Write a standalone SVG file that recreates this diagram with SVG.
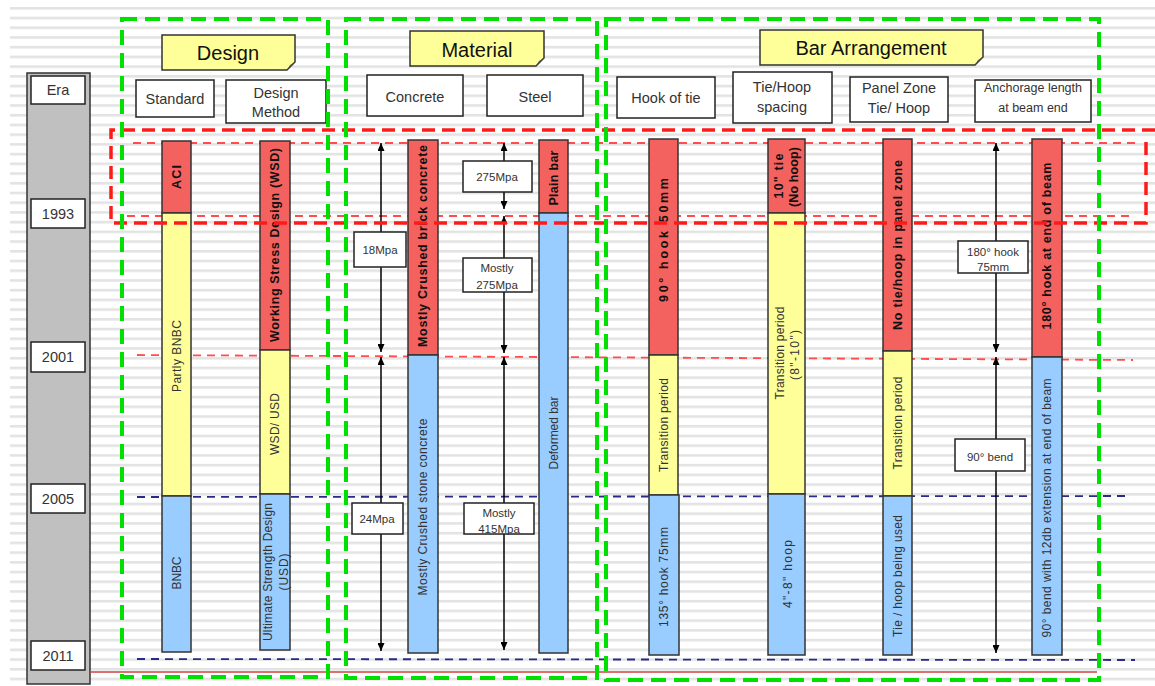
<svg xmlns="http://www.w3.org/2000/svg" width="1155" height="686" viewBox="0 0 1155 686">
<style>
.green{fill:none;stroke:#00e000;stroke-width:4;stroke-dasharray:15 8}
.redthick{fill:none;stroke:#ff1a1a;stroke-width:3.5;stroke-dasharray:13 7}
.redthin{fill:none;stroke:#ff4d4d;stroke-width:1.8;stroke-dasharray:8 6}
.navy{fill:none;stroke:#2a2a8a;stroke-width:1.8;stroke-dasharray:8 6}
.box{fill:#fff;stroke:#222;stroke-width:1.5}
.note{fill:#ffff99;stroke:#333;stroke-width:1.5}
.br{fill:#f4625f;stroke:#333;stroke-width:1.5}
.by{fill:#ffff99;stroke:#333;stroke-width:1.5}
.bb{fill:#99ccff;stroke:#333;stroke-width:1.5}
.t{font-family:"Liberation Sans",Arial,sans-serif;fill:#333;text-anchor:middle}
.hdr{font-size:20px;fill:#111}
.lbl{font-size:14.5px}
.sm{font-size:12.5px}
.ml{font-size:11.5px}
.vb{font-size:12.5px;font-weight:bold;fill:#111}
.vn{font-size:12px;fill:#333}
.arr{stroke:#000;stroke-width:1.5;fill:none;marker-start:url(#ah);marker-end:url(#ah)}
</style>
<defs>
<pattern id="stripes" patternUnits="userSpaceOnUse" x="0" y="7" width="20" height="9.72">
<rect x="0" y="0" width="20" height="2.6" fill="#e3e3e3"/>
</pattern>
<marker id="ah" viewBox="0 0 8 7" refX="8" refY="3.5" markerWidth="8" markerHeight="7" markerUnits="userSpaceOnUse" orient="auto-start-reverse">
<path d="M0,0 L8,3.5 L0,7 z" fill="#000"/>
</marker>
</defs>
<rect width="1155" height="686" fill="#fff"/>
<rect x="10" y="5" width="1145" height="681" fill="url(#stripes)"/>

<g id="era-column">
<rect x="27" y="73" width="63" height="611" fill="#c0c0c0" stroke="#333" stroke-width="1.5"/>
<g id="era"><rect class="box" x="31" y="76" width="54" height="28"/><text class="t lbl" x="58" y="95">Era</text></g>
<g id="y1993"><rect class="box" x="31" y="199" width="54" height="29"/><text class="t lbl" x="58" y="219">1993</text></g>
<g id="y2001"><rect class="box" x="31" y="342" width="54" height="30"/><text class="t lbl" x="58" y="362">2001</text></g>
<g id="y2005"><rect class="box" x="31" y="484" width="54" height="29"/><text class="t lbl" x="58" y="504">2005</text></g>
<g id="y2011"><rect class="box" x="31" y="641" width="54" height="29"/><text class="t lbl" x="58" y="661">2011</text></g>
</g>

<g id="era-lines">
<line class="redthin" x1="133" y1="143" x2="1135" y2="143"/>
<line class="redthin" x1="127" y1="216" x2="1135" y2="216"/>
<line class="redthin" x1="137" y1="355" x2="1133" y2="360"/>
<line class="navy" x1="137" y1="497" x2="1125" y2="496"/>
<line class="navy" x1="137" y1="659" x2="1135" y2="660"/>
<line x1="90" y1="672" x2="1097" y2="672" stroke="#d04040" stroke-width="1.5"/>
</g>

<g id="col-standard">
<rect class="br" x="162" y="141" width="29" height="72"/>
<rect class="by" x="162" y="213" width="29" height="283"/>
<rect class="bb" x="162" y="496" width="29" height="156"/>
<text class="t vb" transform="translate(176.5,177) rotate(-90)" dy="0.35em" textLength="24">ACI</text>
<text class="t vn" transform="translate(176.5,356) rotate(-90)" dy="0.35em" textLength="72">Partly BNBC</text>
<text class="t vn" transform="translate(176.5,573) rotate(-90)" dy="0.35em" textLength="33">BNBC</text>
</g>

<g id="col-design-method">
<rect class="br" x="260" y="141" width="30" height="209"/>
<rect class="by" x="260" y="350" width="30" height="144"/>
<rect class="bb" x="260" y="494" width="30" height="156"/>
<text class="t vb" transform="translate(275,245) rotate(-90)" dy="0.35em" textLength="194">Working Stress Design (WSD)</text>
<text class="t vn" transform="translate(275,424) rotate(-90)" dy="0.35em" textLength="62">WSD/ USD</text>
<text class="t vn" transform="translate(268,572) rotate(-90)" dy="0.35em" textLength="138">Ultimate Strength Design</text>
<text class="t vn" transform="translate(284,572) rotate(-90)" dy="0.35em" textLength="37">(USD)</text>
</g>

<g id="col-concrete">
<rect class="br" x="408" y="140" width="30" height="215"/>
<rect class="bb" x="408" y="355" width="30" height="298"/>
<text class="t vb" transform="translate(423,246) rotate(-90)" dy="0.35em" textLength="202">Mostly Crushed brick concrete</text>
<text class="t vn" transform="translate(423,507) rotate(-90)" dy="0.35em" textLength="177">Mostly Crushed stone concrete</text>
</g>

<g id="col-steel">
<rect class="br" x="539" y="140" width="29" height="73"/>
<rect class="bb" x="539" y="213" width="29" height="440"/>
<text class="t vb" transform="translate(553.5,178) rotate(-90)" dy="0.35em" textLength="55">Plain bar</text>
<text class="t vn" transform="translate(553.5,433) rotate(-90)" dy="0.35em" textLength="73">Deformed bar</text>
</g>

<g id="col-hook">
<rect class="br" x="649" y="139" width="29" height="216"/>
<rect class="by" x="649" y="355" width="29" height="140"/>
<rect class="bb" x="649" y="495" width="30" height="160"/>
<text class="t vb" transform="translate(663.5,240) rotate(-90)" dy="0.35em" textLength="124">90°  hook  50mm</text>
<text class="t vn" transform="translate(663.5,425) rotate(-90)" dy="0.35em" textLength="94">Transition period</text>
<text class="t vn" transform="translate(664,577) rotate(-90)" dy="0.35em" textLength="100">135°  hook 75mm</text>
</g>

<g id="col-tie-spacing">
<rect class="br" x="768" y="139" width="37" height="74"/>
<rect class="by" x="768" y="213" width="37" height="281"/>
<rect class="bb" x="768" y="494" width="37" height="161"/>
<text class="t vb" transform="translate(779,176) rotate(-90)" dy="0.35em" textLength="45">10" tie</text>
<text class="t vb" transform="translate(794,177) rotate(-90)" dy="0.35em" textLength="60">(No hoop)</text>
<text class="t vn" transform="translate(780,353) rotate(-90)" dy="0.35em" textLength="93">Transition period</text>
<text class="t vn" transform="translate(795,355) rotate(-90)" dy="0.35em" textLength="50">(8"-10")</text>
<text class="t vn" transform="translate(788,574) rotate(-90)" dy="0.35em" textLength="68">4"-8" hoop</text>
</g>

<g id="col-panel-zone">
<rect class="br" x="883" y="139" width="29" height="212"/>
<rect class="by" x="883" y="351" width="29" height="145"/>
<rect class="bb" x="883" y="496" width="29" height="159"/>
<text class="t vb" transform="translate(897.5,245) rotate(-90)" dy="0.35em" textLength="170">No tie/hoop in panel zone</text>
<text class="t vn" transform="translate(897.5,423) rotate(-90)" dy="0.35em" textLength="93">Transition period</text>
<text class="t vn" transform="translate(897.5,576) rotate(-90)" dy="0.35em" textLength="122">Tie / hoop being used</text>
</g>

<g id="col-anchorage">
<rect class="br" x="1032" y="139" width="30" height="218"/>
<rect class="bb" x="1032" y="357" width="30" height="298"/>
<text class="t vb" transform="translate(1047,246) rotate(-90)" dy="0.35em" textLength="167">180° hook at end of beam</text>
<text class="t vn" transform="translate(1047,508) rotate(-90)" dy="0.35em" textLength="259">90° bend with 12db extension at end of beam</text>
</g>

<g id="connectors">
<line class="arr" x1="381" y1="143" x2="381" y2="352"/>
<line class="arr" x1="381" y1="357" x2="381" y2="651"/>
<line class="arr" x1="504" y1="143" x2="504" y2="209"/>
<line class="arr" x1="504" y1="216" x2="504" y2="353"/>
<line class="arr" x1="504" y1="357" x2="504" y2="650"/>
<line class="arr" x1="996" y1="143" x2="996" y2="352"/>
<line class="arr" x1="996" y1="357" x2="996" y2="653"/>
</g>

<g id="lbl-18mpa"><rect class="box" x="354" y="232" width="52" height="35"/><text class="t ml" x="380" y="254">18Mpa</text></g>
<g id="lbl-24mpa"><rect class="box" x="352" y="503" width="51" height="31"/><text class="t ml" x="377" y="523">24Mpa</text></g>
<g id="lbl-275mpa"><rect class="box" x="463" y="161" width="69" height="31"/><text class="t ml" x="497" y="181">275Mpa</text></g>
<g id="lbl-mostly-275"><rect class="box" x="463" y="258" width="69" height="34"/><text class="t ml" x="497" y="272">Mostly</text><text class="t ml" x="497" y="289">275Mpa</text></g>
<g id="lbl-mostly-415"><rect class="box" x="464" y="503" width="70" height="31"/><text class="t ml" x="499" y="517">Mostly</text><text class="t ml" x="499" y="533">415Mpa</text></g>
<g id="lbl-180hook"><rect class="box" x="958" y="241" width="70" height="32"/><text class="t ml" x="993" y="256">180°  hook</text><text class="t ml" x="993" y="271">75mm</text></g>
<g id="lbl-90bend"><rect class="box" x="955" y="439" width="70" height="32"/><text class="t ml" x="990" y="461">90°  bend</text></g>

<g id="hdr-design">
<path class="note" d="M162,35 H295 V62 L287,70 H162 Z"/>
<path d="M287,70 L290,65 L295,62 Z" fill="#555"/>
<text class="t hdr" x="228" y="60">Design</text>
</g>
<g id="hdr-material">
<path class="note" d="M410,31 H544 V58 L536,66 H410 Z"/>
<path d="M536,66 L539,61 L544,58 Z" fill="#555"/>
<text class="t hdr" x="477" y="57">Material</text>
</g>
<g id="hdr-bar">
<path class="note" d="M760,30 H983 V57 L975,65 H760 Z"/>
<path d="M975,65 L978,60 L983,57 Z" fill="#555"/>
<text class="t hdr" x="871" y="55">Bar Arrangement</text>
</g>

<g id="sub-standard"><rect class="box" x="136" y="80" width="78" height="37"/><text class="t lbl" x="175" y="104">Standard</text></g>
<g id="sub-design-method"><rect class="box" x="226" y="80" width="100" height="43"/><text class="t lbl" x="276" y="98">Design</text><text class="t lbl" x="276" y="117">Method</text></g>
<g id="sub-concrete"><rect class="box" x="367" y="75" width="96" height="41"/><text class="t lbl" x="415" y="102">Concrete</text></g>
<g id="sub-steel"><rect class="box" x="487" y="75" width="96" height="41"/><text class="t lbl" x="535" y="102">Steel</text></g>
<g id="sub-hook"><rect class="box" x="617" y="77" width="98" height="41"/><text class="t lbl" x="666" y="103">Hook of tie</text></g>
<g id="sub-tie-spacing"><rect class="box" x="733" y="72" width="99" height="51"/><text class="t lbl" x="782" y="92">Tie/Hoop</text><text class="t lbl" x="782" y="112">spacing</text></g>
<g id="sub-panel"><rect class="box" x="850" y="77" width="98" height="45"/><text class="t lbl" x="899" y="93">Panel Zone</text><text class="t lbl" x="899" y="113">Tie/ Hoop</text></g>
<g id="sub-anchorage"><rect class="box" x="975" y="80" width="116" height="42"/><text class="t sm" x="1033" y="92">Anchorage length</text><text class="t sm" x="1033" y="112">at beam end</text></g>

<g id="red-zone">
<path class="redthick" d="M1155,130 H111 V223 H1146 V141"/>
</g>

<g id="groups">
<rect class="green" x="122" y="19" width="206" height="658"/>
<rect class="green" x="346" y="19" width="251" height="659"/>
<rect class="green" x="606" y="19" width="493" height="661"/>
</g>
</svg>
